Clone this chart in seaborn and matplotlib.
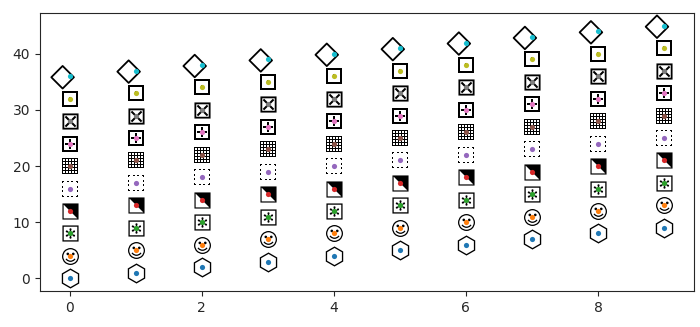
import matplotlib
matplotlib.use("Agg")
import matplotlib.pyplot as plt
from matplotlib.markers import MarkerStyle
from matplotlib.path import Path
import numpy as np
import pandas as pd
import seaborn as sns

# Unicode glyphs used as markers, one per series (bottom to top)
symbols = ["\u2B21", "\u263A", "\u29C6", "\u2B14", "\u2B1A",
           "\u25A6", "\u229E", "\u22A0", "\u22A1", "\u25C7"]
x_values = list(range(10))
offsets = [0, 4, 8, 12, 16, 20, 24, 28, 32, 36]

rows = []
for i, (sym, off) in enumerate(zip(symbols, offsets)):
    for xv in x_values:
        rows.append({"x": xv, "y": xv + off, "series": i})
df = pd.DataFrame(rows)

sns.set_style("ticks")
plt.rcParams["font.family"] = ["DejaVu Sans"]
fig = plt.figure(figsize=(7.0, 3.27), dpi=100)
ax = fig.add_axes([0.057, 0.11, 0.934, 0.85])

# the white diamond glyph sits off-centre, to the left of its point
cx, cy, r = -7.0, -1.0, 11.3
diamond = Path([(cx + r, cy), (cx, cy + r), (cx - r, cy), (cx, cy - r), (cx + r, cy)],
               [Path.MOVETO, Path.LINETO, Path.LINETO, Path.LINETO, Path.CLOSEPOLY])
diamond_marker = MarkerStyle(diamond, fillstyle="none")

marker_sizes = {"\u2B21": 210, "\u263A": 150}

palette = sns.color_palette("tab10", 10)
for i, sym in enumerate(symbols):
    sub = df[df["series"] == i]
    if sym == "\u25C7":
        sns.scatterplot(data=sub, x="x", y="y", marker=diamond_marker, s=695,
                        color="black", linewidth=1.3, ax=ax, zorder=2)
    else:
        sns.scatterplot(data=sub, x="x", y="y", marker=f"${sym}$",
                        s=marker_sizes.get(sym, 135),
                        color="black", linewidth=0, ax=ax, zorder=2)
    sns.scatterplot(data=sub, x="x", y="y", marker="o", s=14,
                    color=palette[i], linewidth=0, ax=ax, zorder=3)

ax.set_xlabel("")
ax.set_ylabel("")
ax.set_xticks([0, 2, 4, 6, 8])
ax.set_yticks([0, 10, 20, 30, 40])
ax.set_xlim(-0.45, 9.45)
ax.set_ylim(-2.25, 47.25)
for s in ax.spines.values():
    s.set_visible(True)

fig.savefig("out.png", dpi=100)
